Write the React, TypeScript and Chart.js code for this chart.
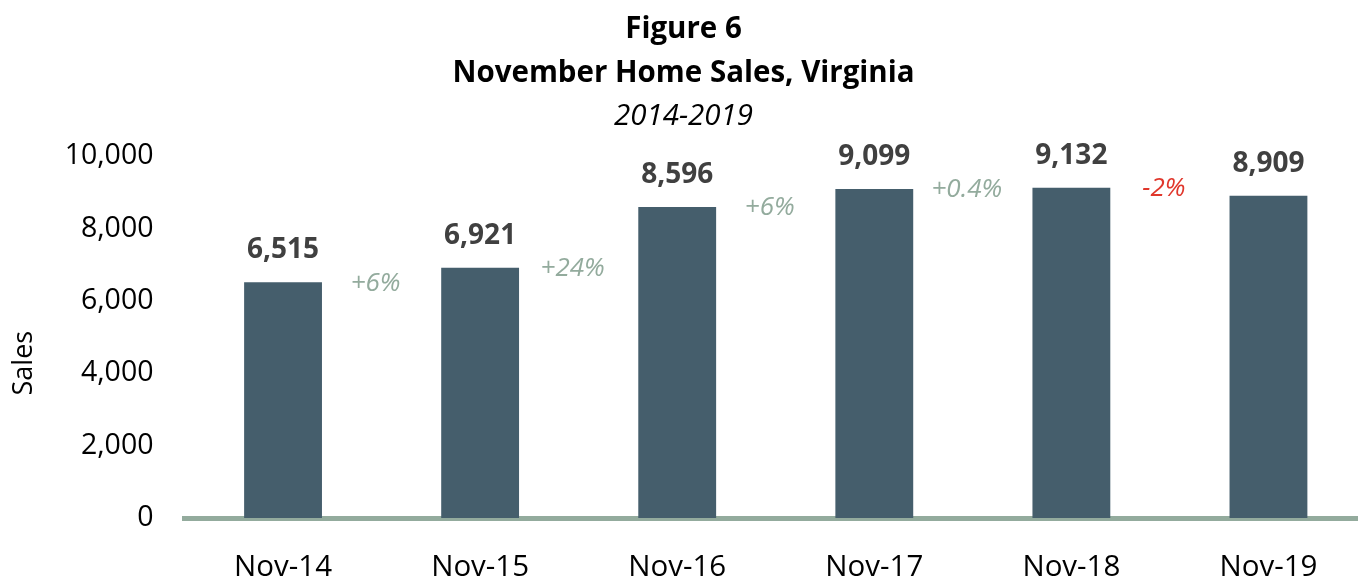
import React, { useEffect, useRef } from "react";
import { Chart, registerables } from "chart.js";

Chart.register(...registerables);

const categories = ["Nov-14", "Nov-15", "Nov-16", "Nov-17", "Nov-18", "Nov-19"];
const sales = [6515, 6921, 8596, 9099, 9132, 8909];
const changeLabels = ["+6%", "+24%", "+6%", "+0.4%", "-2%"];
const yTicks = [0, 2000, 4000, 6000, 8000, 10000];
const yAxisTitle = "Sales";

const FONT = "'Open Sans', 'Noto Sans', sans-serif";
const BAR = "#455E6C";
const AXIS = "#93AB9D";
const POS = "#93AB9D";
const NEG = "#E0372C";

const labelPlugin = {
  id: "labels",
  afterDatasetsDraw(chart: any) {
    const ctx = chart.ctx;
    const meta = chart.getDatasetMeta(0);
    const y = chart.scales.y;
    const area = chart.chartArea;
    ctx.save();
    ctx.textAlign = "center";
    ctx.textBaseline = "middle";
    ctx.font = `bold 28px ${FONT}`;
    ctx.fillStyle = "#404040";
    meta.data.forEach((el: any, i: number) => {
      ctx.fillText(sales[i].toLocaleString("en-US"), el.x, el.y - 32);
    });
    ctx.font = `italic 26px ${FONT}`;
    changeLabels.forEach((t, i) => {
      const x = (meta.data[i].x + meta.data[i + 1].x) / 2 - 6;
      const py = y.getPixelForValue(sales[i]) + 1;
      ctx.fillStyle = t.startsWith("-") ? NEG : POS;
      ctx.fillText(t, x, py);
    });
    // y-axis title
    ctx.save();
    ctx.translate(24, (area.top + area.bottom) / 2 + 26);
    ctx.rotate(-Math.PI / 2);
    ctx.font = `27px ${FONT}`;
    ctx.fillStyle = "#000";
    ctx.fillText(yAxisTitle, 0, 0);
    ctx.restore();
    ctx.restore();
  },
};

export default function App() {
  const ref = useRef<HTMLCanvasElement | null>(null);
  useEffect(() => {
    if (!ref.current) return;
    const chart = new Chart(ref.current, {
      type: "bar",
      data: {
        labels: categories,
        datasets: [
          {
            data: sales,
            backgroundColor: BAR,
            categoryPercentage: 1,
            barPercentage: 0.395,
          },
        ],
      },
      options: {
        responsive: false,
        animation: false,
        layout: { padding: { left: 0, right: 0, top: 0, bottom: 0 } },
        plugins: {
          legend: { display: false },
          tooltip: { enabled: false },
          title: {
            display: true,
            text: ["Figure 6", "November Home Sales, Virginia"],
            font: { family: FONT, size: 29.5, weight: "bold", lineHeight: 1.49 },
            color: "#000",
            padding: { top: 8, bottom: 3 },
          },
          subtitle: {
            display: true,
            text: "2014-2019",
            font: { family: FONT, size: 29.5, style: "italic", lineHeight: 1.2 },
            color: "#000",
            padding: { top: 0, bottom: 22 },
          },
        },
        scales: {
          x: {
            z: 1,
            grid: { display: false, drawTicks: false },
            border: { display: true, color: AXIS, width: 5 },
            ticks: {
              color: "#000",
              font: { family: FONT, size: 29.5, lineHeight: 1.2 },
              padding: 32,
            },
            afterFit(scale: any) {
              scale.height = 65;
            },
          },
          y: {
            min: 0,
            max: 10000,
            afterBuildTicks(scale: any) {
              scale.ticks = yTicks.map((v) => ({ value: v }));
            },
            grid: { display: false, drawTicks: false },
            border: { display: false },
            ticks: {
              color: "#000",
              font: { family: FONT, size: 28.5 },
              padding: 31,
              callback: (v: any) => Number(v).toLocaleString("en-US"),
            },
            afterFit(scale: any) {
              scale.width = 184.5;
            },
          },
        },
      },
      plugins: [labelPlugin],
    });
    return () => chart.destroy();
  }, []);
  return (
    <div
      style={{
        position: "fixed",
        left: 0,
        top: 0,
        width: 1358,
        height: 583,
        overflow: "hidden",
        background: "#fff",
      }}
    >
      <canvas ref={ref} width={1367} height={583} style={{ display: "block" }} />
    </div>
  );
}
